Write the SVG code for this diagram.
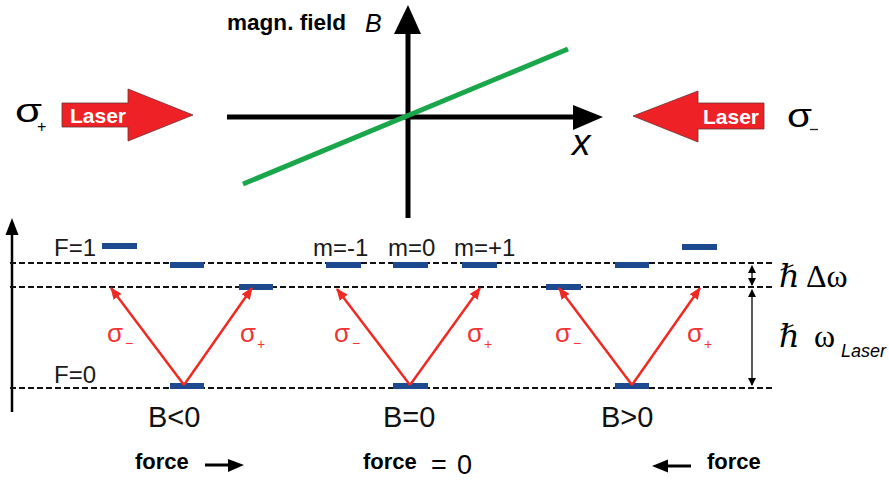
<svg xmlns="http://www.w3.org/2000/svg" width="889" height="481" viewBox="0 0 889 481">
<style>
.sans{font-family:"Liberation Sans",Arial,sans-serif;}
.bold{font-weight:bold;}
.ser{font-family:"Liberation Serif","DejaVu Serif",serif;}
.lbl{font-family:"Liberation Sans",Arial,sans-serif;font-size:24px;fill:#1a1a1a;}
.red{font-family:"Liberation Sans",Arial,sans-serif;fill:#ee3535;}
.bar{fill:#1d4a8f;}
.dash{stroke:#111;stroke-width:2;stroke-dasharray:6,3;fill:none;}
.ax{stroke:#000;stroke-width:5;fill:none;}
.rarr{stroke:#ee2a24;stroke-width:2.5;fill:none;marker-end:url(#rh);}
.laser{fill:#ee2226;stroke:#6b3030;stroke-width:0.8;}
</style>
<defs>
<marker id="rh" markerWidth="12" markerHeight="10" refX="11" refY="5" orient="auto" markerUnits="userSpaceOnUse">
<path d="M0,0 L12,5 L0,10 z" fill="#ee2a24"/>
</marker>
<marker id="bh" markerWidth="8" markerHeight="8" refX="7" refY="4" orient="auto-start-reverse" markerUnits="userSpaceOnUse">
<path d="M0,0 L8,4 L0,8 z" fill="#000"/>
</marker>
</defs>

<g id="lasers">
<g id="laser-left">
<text class="sans" x="15" y="122" font-size="34" textLength="27" lengthAdjust="spacingAndGlyphs">σ</text>
<text class="sans" x="37" y="132" font-size="16">+</text>
<polygon class="laser" points="62,103 128,103 128,89 193,115 128,141 128,127 62,127"/>
<text class="sans bold" x="70" y="123" font-size="21" fill="#fff">Laser</text>
</g>
<g id="laser-right">
<polygon class="laser" points="764,103 698,103 698,91 633,116 698,142 698,129 764,129"/>
<text class="sans bold" x="703" y="124" font-size="21" fill="#fff">Laser</text>
<text class="sans" x="787" y="127" font-size="34" textLength="25" lengthAdjust="spacingAndGlyphs">σ</text>
<line x1="810" y1="129.5" x2="818" y2="129.5" stroke="#222" stroke-width="1.3"/>
</g>
</g>

<g id="field-plot">
<line class="ax" x1="408" y1="218" x2="408" y2="30"/>
<polygon points="394,34 408,5 421,34" fill="#000"/>
<line class="ax" x1="227" y1="117" x2="576" y2="117"/>
<polygon points="573,105 603,117 573,130" fill="#000"/>
<line x1="243" y1="184" x2="568" y2="49" stroke="#1aa64b" stroke-width="5"/>
<text class="sans bold" x="227" y="30" font-size="22" textLength="119" lengthAdjust="spacingAndGlyphs">magn. field</text>
<text class="sans" x="365" y="32" font-size="25" font-style="italic">B</text>
<text class="sans" x="572" y="155" font-size="37" font-style="italic">x</text>
</g>

<g id="energy-axis">
<line x1="12" y1="412" x2="12" y2="232" stroke="#000" stroke-width="2.5"/>
<polygon points="5.5,235 12,218 18.5,235" fill="#000"/>
</g>

<g id="levels">
<line class="dash" x1="10" y1="263" x2="772" y2="263"/>
<line class="dash" x1="10" y1="287" x2="772" y2="287"/>
<line class="dash" x1="10" y1="388" x2="772" y2="388"/>
<text class="lbl" x="54" y="256">F=1</text>
<text class="lbl" x="54" y="383">F=0</text>
</g>

<g id="group-Bneg">
<rect class="bar" x="102" y="243" width="35" height="6"/>
<rect class="bar" x="170" y="262" width="34" height="6"/>
<rect class="bar" x="239" y="284" width="34" height="6"/>
<rect class="bar" x="170" y="383" width="34" height="6"/>
<text class="sans" x="148" y="427" font-size="29" fill="#111">B&lt;0</text>
</g>

<g id="group-B0">
<rect class="bar" x="326" y="262" width="35" height="6"/>
<rect class="bar" x="393" y="262" width="35" height="6"/>
<rect class="bar" x="462" y="262" width="35" height="6"/>
<rect class="bar" x="393" y="383" width="35" height="6"/>
<text class="lbl" x="313" y="256">m=-1</text>
<text class="lbl" x="388" y="256">m=0</text>
<text class="lbl" x="454" y="256">m=+1</text>
<text class="sans" x="383" y="427" font-size="29" fill="#111">B=0</text>
</g>

<g id="group-Bpos">
<rect class="bar" x="682" y="244" width="35" height="6"/>
<rect class="bar" x="615" y="262" width="34" height="6"/>
<rect class="bar" x="546" y="284" width="35" height="6"/>
<rect class="bar" x="615" y="383" width="34" height="6"/>
<text class="sans" x="601" y="427" font-size="29" fill="#111">B&gt;0</text>
</g>

<g id="connectors">
<line class="rarr" x1="184" y1="385" x2="111" y2="288"/>
<line class="rarr" x1="184" y1="385" x2="252" y2="288"/>
<line class="rarr" x1="410" y1="385" x2="337" y2="289"/>
<line class="rarr" x1="410" y1="385" x2="480" y2="288"/>
<line class="rarr" x1="632" y1="385" x2="559" y2="288"/>
<line class="rarr" x1="632" y1="385" x2="700" y2="288"/>
<line x1="752" y1="266" x2="752" y2="285" stroke="#000" stroke-width="1.3" marker-start="url(#bh)" marker-end="url(#bh)"/>
<line x1="752" y1="290" x2="752" y2="385" stroke="#000" stroke-width="1.3" marker-start="url(#bh)" marker-end="url(#bh)"/>
<line x1="205" y1="465" x2="230" y2="465" stroke="#000" stroke-width="3"/>
<polygon points="228,459 244,465 228,472" fill="#000"/>
<line x1="668" y1="466" x2="691" y2="466" stroke="#000" stroke-width="3"/>
<polygon points="668,459.5 652,466 668,472.5" fill="#000"/>
</g>

<g id="transition-labels">
<text class="red" x="107" y="342" font-size="26">σ</text><text class="red" x="125" y="348" font-size="14">−</text>
<text class="red" x="240" y="342" font-size="26">σ</text><text class="red" x="257" y="349" font-size="14">+</text>
<text class="red" x="334" y="342" font-size="26">σ</text><text class="red" x="352" y="348" font-size="14">−</text>
<text class="red" x="467" y="342" font-size="26">σ</text><text class="red" x="484" y="349" font-size="14">+</text>
<text class="red" x="555" y="342" font-size="26">σ</text><text class="red" x="573" y="348" font-size="14">−</text>
<text class="red" x="687" y="342" font-size="26">σ</text><text class="red" x="704" y="349" font-size="14">+</text>
</g>

<g id="energy-labels">
<text class="ser" x="779" y="287" font-size="32" font-style="italic">ℏ</text>
<text class="ser" x="806" y="287" font-size="32">Δω</text>
<text class="ser" x="779" y="347" font-size="32" font-style="italic">ℏ</text>
<text class="ser" x="814" y="347" font-size="32">ω</text>
<text class="sans" x="841" y="357" font-size="18" font-style="italic">Laser</text>
</g>

<g id="force-labels">
<text class="sans bold" x="135" y="469" font-size="22">force</text>
<text class="sans bold" x="363" y="469" font-size="22">force</text>
<text class="sans" x="431" y="474" font-size="27">=</text>
<text class="sans" x="457" y="474" font-size="27">0</text>
<text class="sans bold" x="707" y="469" font-size="22">force</text>
</g>
</svg>
